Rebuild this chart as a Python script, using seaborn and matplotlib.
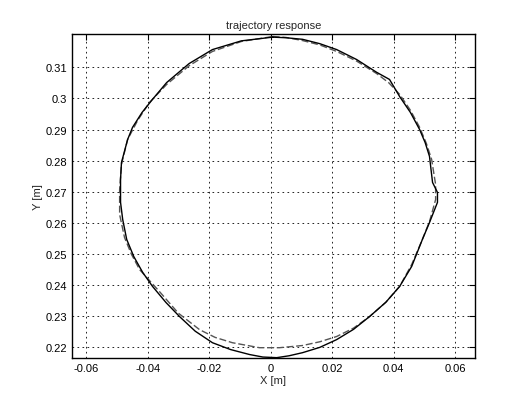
import matplotlib
matplotlib.use("Agg")
import numpy as np
import pandas as pd
import seaborn as sns
from matplotlib import pyplot as plt

# response (solid) trajectory
resp_x = [0.0007, 0.0050, 0.0104, 0.0160, 0.0215, 0.0280, 0.0345, 0.0387, 0.0420, 0.0455,
          0.0485, 0.0503, 0.0517, 0.0527, 0.0543, 0.0543, 0.0517, 0.0494, 0.0459, 0.0420,
          0.0375, 0.0322, 0.0270, 0.0215, 0.0160, 0.0104, 0.0060, 0.0020, -0.0025, -0.0068,
          -0.0130, -0.0189, -0.0245, -0.0296, -0.0340, -0.0384, -0.0416, -0.0445, -0.0468,
          -0.0481, -0.0488, -0.0488, -0.0485, -0.0465, -0.0449, -0.0418, -0.0384, -0.0338,
          -0.0265, -0.0189, -0.0095, 0.0007]
resp_y = [0.3197, 0.3195, 0.3190, 0.3176, 0.3157, 0.3125, 0.3084, 0.3061, 0.3006, 0.2955,
          0.2900, 0.2858, 0.2814, 0.2730, 0.2698, 0.2666, 0.2601, 0.2547, 0.2460, 0.2396,
          0.2345, 0.2299, 0.2258, 0.2225, 0.2200, 0.2183, 0.2173, 0.2167, 0.2169, 0.2177,
          0.2193, 0.2215, 0.2252, 0.2299, 0.2344, 0.2396, 0.2441, 0.2492, 0.2547,
          0.2611, 0.2666, 0.2740, 0.2794, 0.2868, 0.2907, 0.2955, 0.2997, 0.3051,
          0.3112, 0.3157, 0.3185, 0.3197]

# reference (dashed) trajectory
ref_x = [0.0007, 0.0050, 0.0104, 0.0160, 0.0215, 0.0280, 0.0345, 0.0385, 0.0420, 0.0455,
         0.0485, 0.0507, 0.0524, 0.0537, 0.0537, 0.0517, 0.0491, 0.0459, 0.0420, 0.0375,
         0.0322, 0.0270, 0.0215, 0.0160, 0.0104, 0.0029, -0.0036, -0.0124, -0.0180, -0.0231,
         -0.0300, -0.0361, -0.0426, -0.0453, -0.0475, -0.0491, -0.0491, -0.0485, -0.0465,
         -0.0432, -0.0394, -0.0338, -0.0265, -0.0189, -0.0095, 0.0007]
ref_y = [0.3199, 0.3196, 0.3186, 0.3172, 0.3151, 0.3120, 0.3080, 0.3050, 0.3013, 0.2962,
         0.2907, 0.2855, 0.2804, 0.2723, 0.2675, 0.2604, 0.2540, 0.2466, 0.2396, 0.2345,
         0.2299, 0.2262, 0.2235, 0.2218, 0.2206, 0.2199, 0.2199, 0.2215, 0.2232, 0.2257,
         0.2310, 0.2379, 0.2450, 0.2500, 0.2553, 0.2627, 0.2707, 0.2788, 0.2868,
         0.2930, 0.2987, 0.3045, 0.3105, 0.3151, 0.3183, 0.3199]

x_ticks = [-0.06, -0.04, -0.02, 0, 0.02, 0.04, 0.06]
x_labels = ["-0.06", "-0.04", "-0.02", "0", "0.02", "0.04", "0.06"]
y_ticks = [0.22, 0.23, 0.24, 0.25, 0.26, 0.27, 0.28, 0.29, 0.3, 0.31]
y_labels = ["0.22", "0.23", "0.24", "0.25", "0.26", "0.27", "0.28", "0.29", "0.3", "0.31"]

sns.set_style("white")
plt.rcParams["font.family"] = ["Liberation Sans", "DejaVu Sans"]

fig = plt.figure(figsize=(5.32, 4.10), dpi=100)
ax = fig.add_axes([0.1353, 0.1237, 0.7575, 0.7909])

resp = pd.DataFrame({"x": resp_x, "y": resp_y})
ref = pd.DataFrame({"x": ref_x, "y": ref_y})

sns.lineplot(data=ref, x="x", y="y", sort=False, estimator=None, ax=ax,
             color="#555555", lw=1.0, linestyle=(0, (5, 2)))
sns.lineplot(data=resp, x="x", y="y", sort=False, estimator=None, ax=ax,
             color="black", lw=1.0)

ax.set_xlim(-0.0646, 0.0665)
ax.set_ylim(0.2165, 0.3207)
ax.set_xticks(x_ticks)
ax.set_xticklabels(x_labels)
ax.set_yticks(y_ticks)
ax.set_yticklabels(y_labels)
ax.grid(True, color="black", linestyle=(0, (2, 4)), lw=0.6)
ax.tick_params(direction="in", length=4, labelsize=8, top=True, right=True,
               colors="black", width=0.8)
for s in ax.spines.values():
    s.set_color("black")
    s.set_linewidth(1.0)

ax.set_title("trajectory response", fontsize=8, pad=4)
ax.set_xlabel("X [m]", fontsize=8, labelpad=1)
ax.set_ylabel("Y [m]", fontsize=8, labelpad=2)

fig.savefig("out.png", dpi=100)
